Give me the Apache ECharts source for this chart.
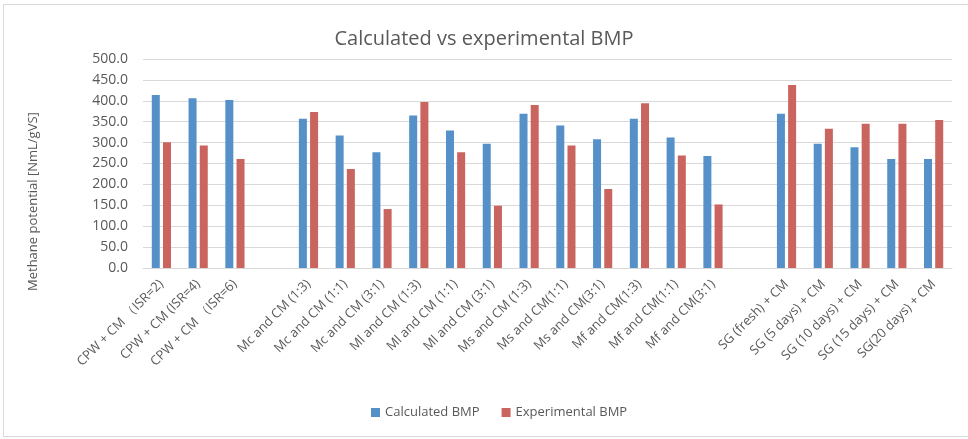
<!DOCTYPE html>
<html>
<head>
<meta charset="utf-8">
<script src="https://cdn.jsdelivr.net/npm/echarts@6/dist/echarts.min.js"></script>
<style>
  html, body { margin: 0; padding: 0; background: #fff; }
  #frame { position: absolute; left: 3px; top: 4px; width: 980px; height: 431px; border: 1px solid #d9d9d9; }
  #main { position: absolute; left: 0; top: 0; width: 968px; height: 439px; }
</style>
</head>
<body>
<div id="frame"></div>
<div id="main"></div>
<script>
// categories, '' = empty slot between the groups
var categories = [
  'CPW + CM （ISR=2)', 'CPW + CM (ISR=4)', 'CPW + CM （ISR=6)', '',
  'Mc and CM (1:3)', 'Mc and CM (1:1)', 'Mc and CM (3:1)',
  'Ml and CM (1:3)', 'Ml and CM (1:1)', 'Ml and CM (3:1)',
  'Ms and CM (1:3)', 'Ms and CM(1:1)', 'Ms and CM(3:1)',
  'Mf and CM(1:3)', 'Mf and CM(1:1)', 'Mf and CM(3:1)', '',
  'SG (fresh) + CM', 'SG (5 days) + CM', 'SG (10 days) + CM', 'SG (15 days) + CM', 'SG(20 days) + CM'
];
var calculated = [414, 406, 402, '-', 357, 317, 277, 365, 329, 297, 369, 341, 308, 357, 312, 268, '-', 369, 297, 289, 261, 261];
var experimental = [301, 293, 261, '-', 373, 237, 141, 397, 277, 149, 390, 293, 189, 394, 269, 152, '-', 438, 333, 345, 345, 354];
var yName = 'Methane potential [NmL/gVS]';

var txt = '#595959';
var font = 'Open Sans';

var myChart = echarts.init(document.getElementById('main'));
var option = {
  animation: false,
  title: {
    text: 'Calculated vs experimental BMP',
    left: 'center',
    top: 24,
    textStyle: { fontFamily: font, fontSize: 20, fontWeight: 'normal', color: txt }
  },
  legend: {
    data: ['Calculated BMP', 'Experimental BMP'],
    bottom: 15,
    left: 366,
    itemWidth: 9,
    itemHeight: 9,
    itemGap: 22,
    icon: 'rect',
    textStyle: { fontFamily: font, fontSize: 13, color: txt }
  },
  graphic: [{
    type: 'text',
    x: 33,
    y: 291,
    rotation: Math.PI / 2,
    style: { text: yName, fontFamily: font, fontSize: 13, fill: txt, align: 'left', verticalAlign: 'middle' },
    z: 10
  }],
  grid: { left: 143, right: 16, top: 59, bottom: 171 },
  xAxis: {
    type: 'category',
    data: categories,
    axisTick: { show: false },
    axisLine: { lineStyle: { color: '#d9d9d9' } },
    axisLabel: {
      interval: 0,
      rotate: 45,
      margin: 14,
      fontFamily: font,
      fontSize: 13,
      color: txt
    }
  },
  yAxis: {
    type: 'value',
    min: 0,
    max: 500,
    interval: 50,
    axisLine: { show: false },
    axisTick: { show: false },
    axisLabel: {
      fontFamily: font,
      fontSize: 14,
      color: txt,
      margin: 15,
      formatter: function (v) { return v.toFixed(1); }
    },
    splitLine: { lineStyle: { color: '#d9d9d9', width: 1 } }
  },
  series: [
    {
      name: 'Calculated BMP',
      type: 'bar',
      data: calculated,
      barWidth: 8,
      barGap: '40%',
      itemStyle: { color: '#5590c8' }
    },
    {
      name: 'Experimental BMP',
      type: 'bar',
      data: experimental,
      barWidth: 8,
      itemStyle: { color: '#c9645f' }
    }
  ]
};
myChart.setOption(option);
</script>
</body>
</html>
